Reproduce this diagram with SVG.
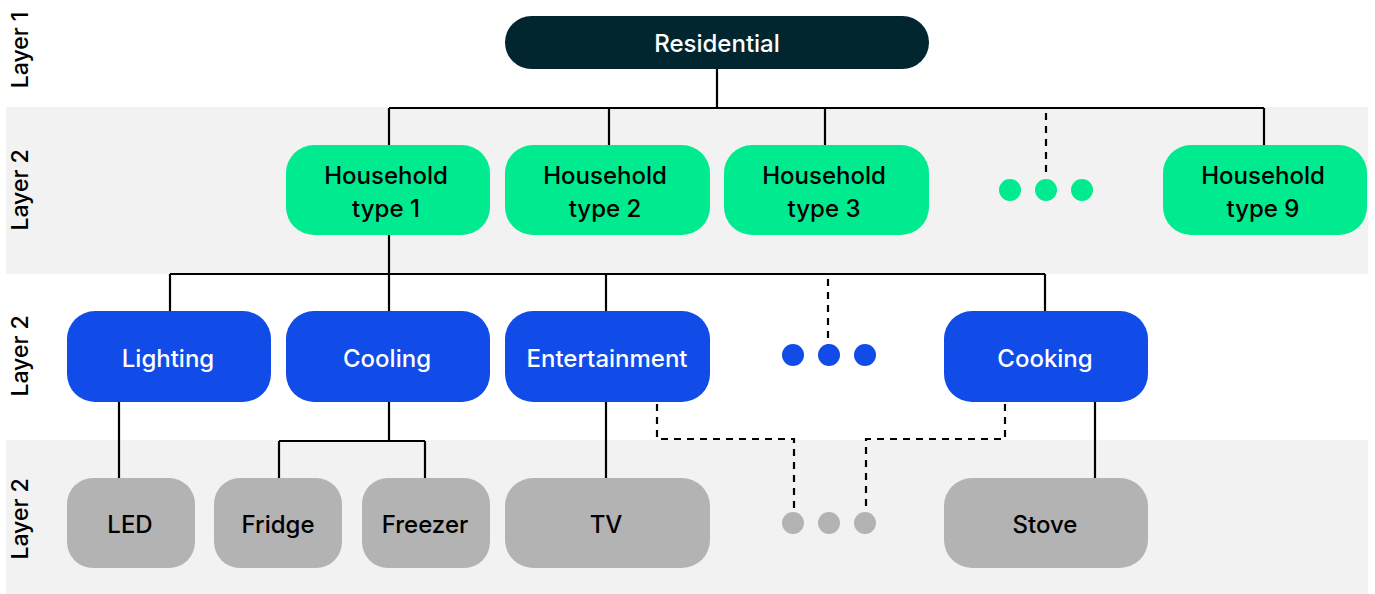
<svg xmlns="http://www.w3.org/2000/svg" width="1375" height="594" viewBox="0 0 1375 594">
  <style>
    .band { fill: #f2f2f2; }
    .lbl { font-family: Inter, "Liberation Sans", sans-serif; font-size: 23px; font-weight: 500; fill: #000; }
    .txt { font-family: Inter, "Liberation Sans", sans-serif; font-size: 24px; font-weight: 500; text-anchor: middle; }
    .root rect { fill: #022630; }
    .hh rect { fill: #00eb8f; }
    .cat rect { fill: #114be8; }
    .dev rect { fill: #b3b3b3; }
    .root text, .cat text { fill: #fff; }
    .hh text, .dev text { fill: #000; }
    .link { fill: none; stroke: #000; stroke-width: 2.2; }
    .dash { fill: none; stroke: #000; stroke-width: 2.2; stroke-dasharray: 7 6; }
    .dot-g { fill: #00eb8f; }
    .dot-b { fill: #114be8; }
    .dot-d { fill: #b3b3b3; }
  </style>

  <!-- shaded layer bands -->
  <rect class="band" x="6" y="107" width="1362" height="167"/>
  <rect class="band" x="6" y="440" width="1362" height="154"/>

  <!-- layer captions -->
  <text class="lbl" transform="translate(28,50) rotate(-90)" text-anchor="middle">Layer 1</text>
  <text class="lbl" transform="translate(28,190) rotate(-90)" text-anchor="middle">Layer 2</text>
  <text class="lbl" transform="translate(28,356) rotate(-90)" text-anchor="middle">Layer 2</text>
  <text class="lbl" transform="translate(28,519) rotate(-90)" text-anchor="middle">Layer 2</text>

  <!-- connectors -->
  <g id="connectors">
    <path class="link" d="M717 69 V108 M389 108 H1264 M389 108 V145 M609 108 V145 M825 108 V145 M1264 108 V145"/>
    <path class="dash" d="M1046 113 V178"/>
    <path class="link" d="M389 235 V311 M170 274 H1045 M170 274 V311 M606 274 V311 M1045 274 V311"/>
    <path class="dash" d="M828 279 V345"/>
    <path class="link" d="M119 402 V478 M389 402 V441 M279 441 H425 M279 441 V478 M425 441 V478 M606 402 V478 M1095 402 V478"/>
    <path class="dash" d="M657 404 V439 H794 V512 M1005 404 V439 H866 V512"/>
  </g>

  <!-- layer 1 -->
  <g id="residential" class="root">
    <rect x="505" y="16" width="424" height="53" rx="26.5"/>
    <text class="txt" x="717" y="52">Residential</text>
  </g>

  <!-- household types -->
  <g id="household-1" class="hh">
    <rect x="286" y="145" width="204" height="90" rx="28"/>
    <text class="txt" x="386" y="184">Household</text>
    <text class="txt" x="386" y="217">type 1</text>
  </g>
  <g id="household-2" class="hh">
    <rect x="505" y="145" width="205" height="90" rx="28"/>
    <text class="txt" x="605" y="184">Household</text>
    <text class="txt" x="605" y="217">type 2</text>
  </g>
  <g id="household-3" class="hh">
    <rect x="724" y="145" width="205" height="90" rx="28"/>
    <text class="txt" x="824" y="184">Household</text>
    <text class="txt" x="824" y="217">type 3</text>
  </g>
  <g id="household-more">
    <circle class="dot-g" cx="1010" cy="190" r="11"/>
    <circle class="dot-g" cx="1046" cy="190" r="11"/>
    <circle class="dot-g" cx="1082" cy="190" r="11"/>
  </g>
  <g id="household-9" class="hh">
    <rect x="1163" y="145" width="204" height="90" rx="28"/>
    <text class="txt" x="1263" y="184">Household</text>
    <text class="txt" x="1263" y="217">type 9</text>
  </g>

  <!-- end-use categories -->
  <g id="lighting" class="cat">
    <rect x="67" y="311" width="204" height="91" rx="28"/>
    <text class="txt" x="168" y="367">Lighting</text>
  </g>
  <g id="cooling" class="cat">
    <rect x="286" y="311" width="204" height="91" rx="28"/>
    <text class="txt" x="387" y="367">Cooling</text>
  </g>
  <g id="entertainment" class="cat">
    <rect x="505" y="311" width="205" height="91" rx="28"/>
    <text class="txt" x="607" y="367">Entertainment</text>
  </g>
  <g id="category-more">
    <circle class="dot-b" cx="793" cy="355" r="11"/>
    <circle class="dot-b" cx="829" cy="355" r="11"/>
    <circle class="dot-b" cx="865" cy="355" r="11"/>
  </g>
  <g id="cooking" class="cat">
    <rect x="944" y="311" width="204" height="91" rx="28"/>
    <text class="txt" x="1045" y="367">Cooking</text>
  </g>

  <!-- devices -->
  <g id="led" class="dev">
    <rect x="67" y="478" width="128" height="90" rx="26"/>
    <text class="txt" x="130" y="533">LED</text>
  </g>
  <g id="fridge" class="dev">
    <rect x="214" y="478" width="128" height="90" rx="26"/>
    <text class="txt" x="278" y="533">Fridge</text>
  </g>
  <g id="freezer" class="dev">
    <rect x="362" y="478" width="128" height="90" rx="26"/>
    <text class="txt" x="425" y="533">Freezer</text>
  </g>
  <g id="tv" class="dev">
    <rect x="505" y="478" width="205" height="90" rx="28"/>
    <text class="txt" x="606" y="533">TV</text>
  </g>
  <g id="device-more">
    <circle class="dot-d" cx="793" cy="523" r="11"/>
    <circle class="dot-d" cx="829" cy="523" r="11"/>
    <circle class="dot-d" cx="865" cy="523" r="11"/>
  </g>
  <g id="stove" class="dev">
    <rect x="944" y="478" width="204" height="90" rx="28"/>
    <text class="txt" x="1045" y="533">Stove</text>
  </g>
</svg>
